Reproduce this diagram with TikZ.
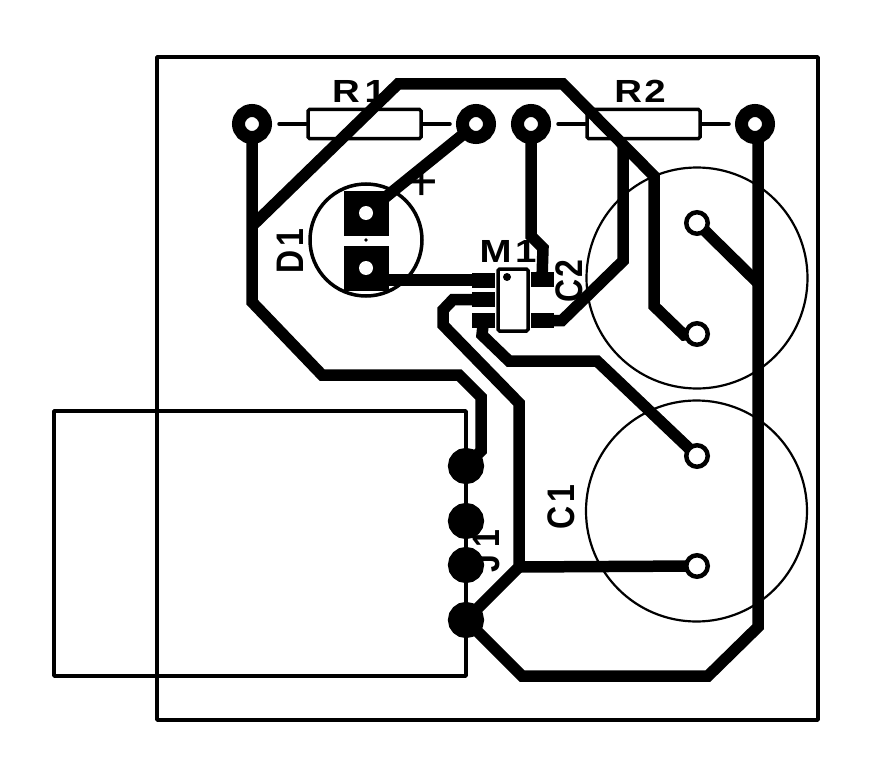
\documentclass[tikz,border=0pt]{standalone}
\usepackage{fontspec}
\setmainfont{Liberation Sans}
\begin{document}
\begin{tikzpicture}[x=1pt,y=-1pt,
  outline/.style={draw=black,line width=3.5pt,line join=round},
  thin circle/.style={draw=black,line width=2.2pt},
  track/.style={draw=black,line width=11.5pt,line join=miter},
  thpad/.style={circle,draw=black,fill=white,inner sep=0pt,minimum size=27pt,line width=13pt},
  ringpad/.style={circle,draw=black,fill=white,inner sep=0pt,minimum size=21.5pt,line width=4.5pt},
  jpad/.style={circle,draw=black,fill=white,inner sep=0pt,minimum size=18.5pt,line width=17.5pt},
  smd/.style={rectangle,fill=black,inner sep=0pt,minimum width=23pt,minimum height=15pt},
  sqpad/.style={rectangle,fill=black,inner sep=0pt,minimum width=45pt,minimum height=45pt},
  hole/.style={circle,fill=white,inner sep=0pt,minimum size=14pt},
  body/.style={rectangle,draw=black,line width=3.5pt,fill=white,inner sep=0pt,rounded corners=1.5pt},
  res/.style={body,minimum width=113pt,minimum height=29pt,fill=none},
  lead/.style={draw=black,line width=3.5pt,line cap=round},
  lbl/.style={inner sep=0pt,font=\fontsize{32}{32}\selectfont\bfseries,xscale=1.2}]
\useasboundingbox (0,0) rectangle (871,776);
\fill[white] (0,0) rectangle (871,776);
% outlines
\node[rectangle,outline,minimum width=661pt,minimum height=663pt,inner sep=0pt] (board) at (487.5,388.5) {};
\node[rectangle,outline,minimum width=412pt,minimum height=265pt,inner sep=0pt] (jbody) at (260,543.5) {};
\node[circle,thin circle,minimum size=221pt,inner sep=0pt] (c2ring) at (697,278) {};
\node[circle,thin circle,minimum size=221pt,inner sep=0pt] (c1ring) at (696.5,511) {};
\node[circle,draw=black,line width=3.5pt,minimum size=112pt,inner sep=0pt] (d1ring) at (366,240) {};
% resistors
\node[res] (r1b) at (364.5,124) {};
\node[res] (r2b) at (643.5,124) {};
\coordinate (r1l) at (279,124); \coordinate (r1r) at (450,124);
\coordinate (r2l) at (558,124); \coordinate (r2r) at (729,124);
\draw[lead] (r1l) -- (r1b.west);
\draw[lead] (r1b.east) -- (r1r);
\draw[lead] (r2l) -- (r2b.west);
\draw[lead] (r2b.east) -- (r2r);
% labels
\node[lbl] (tR1) at (359,91) {R\kern4pt 1};
\node[lbl] (tR2) at (640,91) {R\kern2pt 2};
\node[lbl] (tM1) at (508,251) {M\kern3pt 1};
\node[lbl,rotate=90] (tD1) at (290,251) {D\kern4pt 1};
\node[lbl,rotate=90] (tC2) at (569,281) {C\kern2pt 2};
\node[lbl,rotate=90] (tC1) at (561,507) {C\kern4pt 1};
\node[lbl,rotate=90] (tJ1) at (486,551) {J\kern8pt 1};
\node[inner sep=0pt,font=\fontsize{56}{56}\selectfont] (tplus) at (422,184) {+};
% pad anchors for tracks
\coordinate (P1) at (252,124);
\coordinate (P2) at (476,124);
\coordinate (P3) at (531,124);
\coordinate (P4) at (755,124);
\coordinate (A1) at (366,213);
\coordinate (A2) at (366,268);
\coordinate (A3) at (380,280);
\coordinate (C2a) at (697,223);
\coordinate (C2b) at (697,334);
\coordinate (C1a) at (697,456);
\coordinate (C1b) at (697,566);
\coordinate (J1) at (466,466);
\coordinate (J2) at (466,521);
\coordinate (J3) at (466,565);
\coordinate (J4) at (466,620);
\coordinate (S1) at (483.5,280);
\coordinate (S2) at (483.5,299.5);
\coordinate (S3) at (483.5,320.5);
\coordinate (S4) at (542,279);
\coordinate (S5) at (542,320.5);
% tracks
\draw[track] (P1) -- (252,302) -- (322,375) -- (459,375) -- (481,397) -- (481,451) -- (J1);
\draw[track] (252,226) -- (398,84) -- (563,84) -- (654,176) -- (654,306) -- (684,335) -- (C2b);
\draw[track] (P2) -- (A1);
\draw[track] (P3) -- (531,236) -- (543,248) -- (S4);
\draw[track] (S5) -- (562,320.5) -- (623,261) -- (623,146);
\draw[track] (A3) -- (S1);
\draw[track] (S2) -- (453,299.5) -- (443,310) -- (443,325) -- (519,403) -- (519,567) -- (J4);
\draw[track] (519,567) -- (C1b);
\draw[track] (S3) -- (482,335) -- (509,361) -- (597,361) -- (C1a);
\draw[track] (J4) -- (522,676) -- (708,676) -- (758,627) -- (758,140) -- (P4);
\draw[track] (C2a) -- (758,283);
% components
\node[sqpad] (d1a) at (A1) {};
\node[sqpad] (d1k) at (A2) {};
\node[hole] (d1ah) at (A1) {};
\node[hole] (d1kh) at (A2) {};
\fill[black] (d1ring.center) circle (1.8pt);
\node[thpad] (pr1l) at (P1) {};
\node[thpad] (pr1r) at (P2) {};
\node[thpad] (pr2l) at (P3) {};
\node[thpad] (pr2r) at (P4) {};
\node[ringpad] (pc2a) at (C2a) {};
\node[ringpad] (pc2b) at (C2b) {};
\node[ringpad] (pc1a) at (C1a) {};
\node[ringpad] (pc1b) at (C1b) {};
\node[jpad] (pj1) at (J1) {};
\node[jpad] (pj2) at (J2) {};
\node[jpad] (pj3) at (J3) {};
\node[jpad] (pj4) at (J4) {};
\node[smd] (m1a) at (S1) {};
\node[smd] (m1b) at (S2) {};
\node[smd] (m1c) at (S3) {};
\node[smd] (m1d) at (S4) {};
\node[smd] (m1e) at (S5) {};
\node[body,minimum width=30pt,minimum height=62pt] (m1) at (513,300) {};
\fill[black] (507,277) circle (4pt);
\end{tikzpicture}
\end{document}
